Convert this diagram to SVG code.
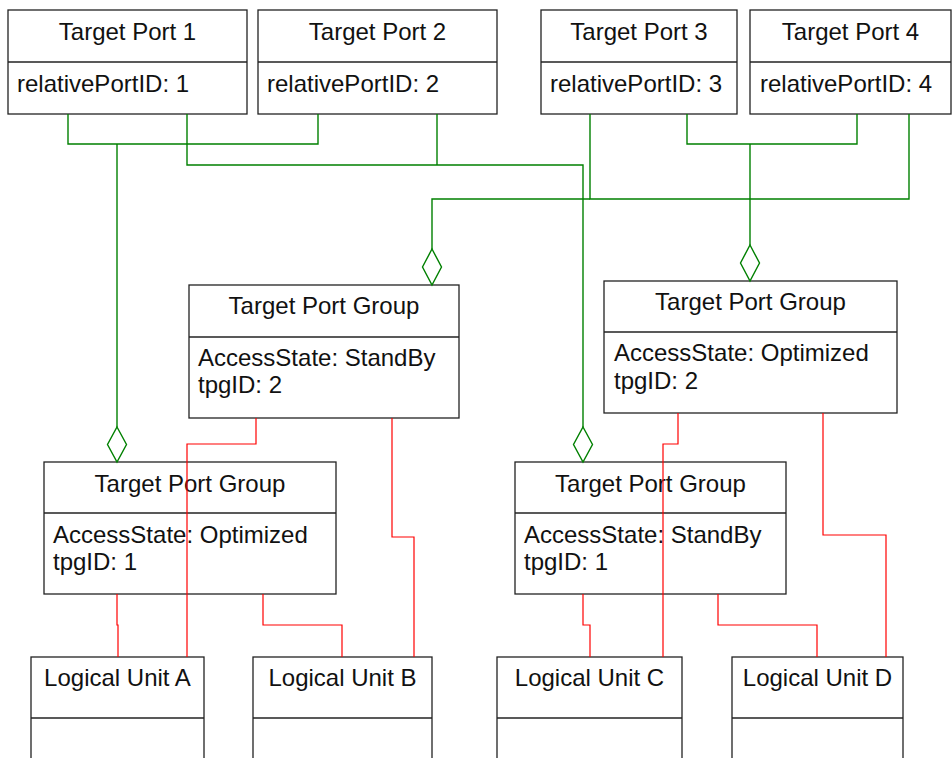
<svg xmlns="http://www.w3.org/2000/svg" width="952" height="758" viewBox="0 0 952 758">
<style>
.box{fill:#fff;stroke:#222;stroke-width:1.3}
.div{stroke:#222;stroke-width:1.3;fill:none}
text{font-family:"Liberation Sans",Arial,sans-serif;font-size:24px;fill:#111}
.c{text-anchor:middle}
.g{fill:none;stroke:#008000;stroke-width:1.4}
.dia{fill:#fff;stroke:#008000;stroke-width:1.4}
.r{fill:none;stroke:#ff0000;stroke-width:1.2}
</style>
<rect width="952" height="758" fill="#fff"/>
<g id="tp1"><rect class="box" x="8" y="10" width="239" height="104"/><line class="div" x1="8" y1="62" x2="247" y2="62"/><text class="c" x="127.5" y="40">Target Port 1</text><text x="17" y="92">relativePortID: 1</text></g>
<g id="tp2"><rect class="box" x="258" y="10" width="239" height="104"/><line class="div" x1="258" y1="62" x2="497" y2="62"/><text class="c" x="377.5" y="40">Target Port 2</text><text x="267" y="92">relativePortID: 2</text></g>
<g id="tp3"><rect class="box" x="541" y="10" width="196" height="104"/><line class="div" x1="541" y1="62" x2="737" y2="62"/><text class="c" x="639" y="40">Target Port 3</text><text x="550" y="92">relativePortID: 3</text></g>
<g id="tp4"><rect class="box" x="750" y="10" width="201" height="104"/><line class="div" x1="750" y1="62" x2="951" y2="62"/><text class="c" x="850.5" y="40">Target Port 4</text><text x="760" y="92">relativePortID: 4</text></g>
<g id="tpg-ul"><rect class="box" x="189" y="285" width="270" height="133"/><line class="div" x1="189" y1="337" x2="459" y2="337"/><text class="c" x="324" y="314">Target Port Group</text><text x="198" y="366">AccessState: StandBy</text><text x="198" y="393">tpgID: 2</text></g>
<g id="tpg-ur"><rect class="box" x="604" y="281" width="293" height="132"/><line class="div" x1="604" y1="332" x2="897" y2="332"/><text class="c" x="750.5" y="310">Target Port Group</text><text x="614" y="361">AccessState: Optimized</text><text x="614" y="389">tpgID: 2</text></g>
<g id="tpg-ll"><rect class="box" x="44" y="462" width="292" height="132"/><line class="div" x1="44" y1="513" x2="336" y2="513"/><text class="c" x="190" y="492">Target Port Group</text><text x="53" y="543">AccessState: Optimized</text><text x="53" y="570">tpgID: 1</text></g>
<g id="tpg-lr"><rect class="box" x="515" y="462" width="271" height="132"/><line class="div" x1="515" y1="513" x2="786" y2="513"/><text class="c" x="650.5" y="492">Target Port Group</text><text x="524" y="543">AccessState: StandBy</text><text x="524" y="570">tpgID: 1</text></g>
<g id="lu-a"><rect class="box" x="31" y="657" width="173" height="110"/><line class="div" x1="31" y1="718" x2="204" y2="718"/><text class="c" x="117.5" y="686">Logical Unit A</text></g>
<g id="lu-b"><rect class="box" x="253" y="657" width="179" height="110"/><line class="div" x1="253" y1="718" x2="432" y2="718"/><text class="c" x="342.5" y="686">Logical Unit B</text></g>
<g id="lu-c"><rect class="box" x="497" y="657" width="185" height="110"/><line class="div" x1="497" y1="718" x2="682" y2="718"/><text class="c" x="589.5" y="686">Logical Unit C</text></g>
<g id="lu-d"><rect class="box" x="732" y="657" width="171" height="110"/><line class="div" x1="732" y1="718" x2="903" y2="718"/><text class="c" x="817.5" y="686">Logical Unit D</text></g>
<g id="connectors">
<polyline class="g" points="68,114 68,144 318,144 318,114"/>
<polyline class="g" points="117,144 117,427"/>
<path class="dia" d="M117,427 L126.5,444.5 L117,462 L107.5,444.5 Z"/>
<polyline class="g" points="187,114 187,165 583,165 583,427"/>
<polyline class="g" points="437,114 437,165"/>
<path class="dia" d="M583,427 L592.5,444.5 L583,462 L573.5,444.5 Z"/>
<polyline class="g" points="590,114 590,199 909,199 909,114"/>
<polyline class="g" points="590,199 432,199 432,249"/>
<path class="dia" d="M432,249 L441.5,267 L432,285 L422.5,267 Z"/>
<polyline class="g" points="687,114 687,144 857,144 857,114"/>
<polyline class="g" points="750,144 750,245"/>
<path class="dia" d="M750,245 L759.5,263 L750,281 L740.5,263 Z"/>
<polyline class="r" points="117,594 117,625 118,625 118,657"/>
<polyline class="r" points="263,594 263,625 342,625 342,657"/>
<polyline class="r" points="256,418 256,444 187,444 187,657"/>
<polyline class="r" points="392,418 392,537 414,537 414,657"/>
<polyline class="r" points="583,594 583,625 590,625 590,657"/>
<polyline class="r" points="718,594 718,625 817,625 817,657"/>
<polyline class="r" points="678,413 678,444 663,444 663,657"/>
<polyline class="r" points="823,413 823,535 886,535 886,657"/>
</g>
</svg>
